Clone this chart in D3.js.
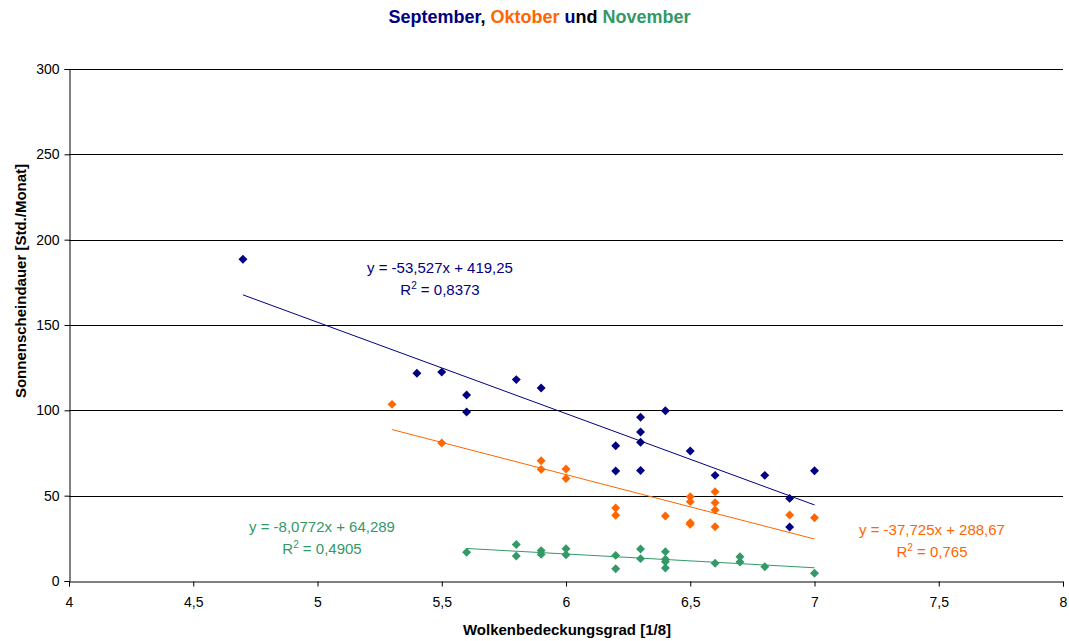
<!DOCTYPE html>
<html>
<head>
<meta charset="utf-8">
<script src="https://cdn.jsdelivr.net/npm/d3@7"></script>
<style>
  body { margin: 0; background: #fff; }
  svg { display: block; font-family: "Liberation Sans", Arial, sans-serif; }
</style>
</head>
<body>
<script>
// September
var sepX = [4.7, 5.4, 5.5, 5.6, 5.6, 5.8, 5.9, 6.2, 6.2, 6.3, 6.3, 6.3, 6.3, 6.4, 6.5, 6.6, 6.8, 6.9, 6.9, 7.0];
var sepY = [188.5, 121.7, 122.4, 109, 99, 118, 113.1, 79.3, 64.5, 95.9, 87.3, 81.3, 64.8, 99.8, 76.2, 61.9, 61.9, 48.4, 31.6, 64.6];
// Oktober
var oktX = [5.3, 5.5, 5.9, 5.9, 6.0, 6.0, 6.2, 6.2, 6.4, 6.5, 6.5, 6.5, 6.5, 6.6, 6.6, 6.6, 6.6, 6.9, 7.0];
var oktY = [103.5, 80.9, 70.5, 65.4, 65.6, 60, 42.8, 38.5, 38.1, 49.4, 46.5, 34.2, 33.2, 52.3, 45.9, 41.6, 31.8, 38.7, 37.1];
// November
var novX = [5.6, 5.8, 5.8, 5.9, 5.9, 6.0, 6.0, 6.2, 6.2, 6.3, 6.3, 6.4, 6.4, 6.4, 6.4, 6.6, 6.7, 6.7, 6.8, 7.0];
var novY = [16.8, 21.4, 14.7, 17.8, 15.6, 18.9, 15.4, 15.0, 7.2, 18.7, 13.1, 17.2, 12.7, 11.3, 7.6, 10.4, 14.2, 11.1, 8.4, 4.5];

var seriesNames = ['September', 'Oktober', 'November'];
var seriesColors = ['#000080', '#FF6600', '#339966'];
var slopes = [-53.527, -37.725, -8.0772];
var intercepts = [419.25, 288.67, 64.289];
var eqLabels = ['y = -53,527x + 419,25', 'y = -37,725x + 288,67', 'y = -8,0772x + 64,289'];
var r2Labels = ['0,8373', '0,765', '0,4905'];
var labelPos = [[440, 268], [932, 530], [322, 527]];

var xTicks = [4, 4.5, 5, 5.5, 6, 6.5, 7, 7.5, 8];
var yTicks = [0, 50, 100, 150, 200, 250, 300];

var W = 1069, H = 641;
var margin = {top: 69, right: 6, bottom: 60, left: 69};

var svg = d3.select('body').append('svg')
  .attr('width', W)
  .attr('height', H);

var x = d3.scaleLinear().domain([4, 8]).range([margin.left, W - margin.right]);
var y = d3.scaleLinear().domain([0, 300]).range([H - margin.bottom, margin.top]);

var fmt = function(d) { return String(d).replace('.', ','); };

// gridlines
svg.append('g').selectAll('line')
  .data(yTicks.filter(function(d) { return d > 0; }))
  .enter().append('line')
  .attr('x1', x(4)).attr('x2', x(8))
  .attr('y1', function(d) { return Math.round(y(d)) + 0.5; })
  .attr('y2', function(d) { return Math.round(y(d)) + 0.5; })
  .attr('stroke', '#000')
  .attr('stroke-width', 1);

// axes
var xAxis = svg.append('g')
  .attr('transform', 'translate(0,' + (Math.round(y(0)) + 0.5) + ')')
  .call(d3.axisBottom(x).tickValues(xTicks).tickFormat(fmt).tickSize(5).tickPadding(11));
var yAxis = svg.append('g')
  .attr('transform', 'translate(' + (Math.round(x(4)) + 0.5) + ',0)')
  .call(d3.axisLeft(y).tickValues(yTicks).tickSize(5).tickPadding(5));

[xAxis, yAxis].forEach(function(a) {
  a.select('.domain').attr('stroke', '#000');
  a.selectAll('.tick line').attr('stroke', '#000');
  a.selectAll('.tick text')
    .attr('font-family', '"Liberation Sans", Arial, sans-serif')
    .attr('font-size', 14)
    .attr('fill', '#000');
});

// trend lines and points
var allX = [sepX, oktX, novX];
var allY = [sepY, oktY, novY];
var diamond = d3.symbol().type(d3.symbolSquare).size(40);

allX.forEach(function(xs, i) {
  var x0 = d3.min(xs), x1 = d3.max(xs);
  svg.append('line')
    .attr('x1', x(x0)).attr('y1', y(slopes[i] * x0 + intercepts[i]))
    .attr('x2', x(x1)).attr('y2', y(slopes[i] * x1 + intercepts[i]))
    .attr('stroke', seriesColors[i])
    .attr('stroke-width', 1);
});

allX.forEach(function(xs, i) {
  var pts = xs.map(function(v, j) { return {x: v, y: allY[i][j]}; });
  svg.append('g').selectAll('path')
    .data(pts)
    .enter().append('path')
    .attr('d', diamond)
    .attr('transform', function(d) { return 'translate(' + x(d.x) + ',' + y(d.y) + ') rotate(45)'; })
    .attr('fill', seriesColors[i]);
});

// equation labels
labelPos.forEach(function(p, i) {
  var g = svg.append('g').attr('fill', seriesColors[i]).attr('font-size', 15).attr('text-anchor', 'middle');
  g.append('text').attr('x', p[0]).attr('y', p[1] + 5).text(eqLabels[i]);
  var t = g.append('text').attr('x', p[0]).attr('y', p[1] + 27);
  t.append('tspan').text('R');
  t.append('tspan').attr('font-size', 10).attr('dy', -6).text('2');
  t.append('tspan').attr('dy', 6).text(' = ' + r2Labels[i]);
});

// title
var title = svg.append('text')
  .attr('x', W / 2 + 5).attr('y', 23)
  .attr('text-anchor', 'middle')
  .attr('font-size', 18)
  .attr('font-weight', 'bold');
title.append('tspan').attr('fill', seriesColors[0]).text(seriesNames[0]);
title.append('tspan').attr('fill', '#000').text(', ');
title.append('tspan').attr('fill', seriesColors[1]).text(seriesNames[1]);
title.append('tspan').attr('fill', seriesColors[0]).text(' u');
title.append('tspan').attr('fill', '#000').text('nd ');
title.append('tspan').attr('fill', seriesColors[2]).text(seriesNames[2]);

// axis titles
svg.append('text')
  .attr('x', 567).attr('y', 635)
  .attr('text-anchor', 'middle')
  .attr('font-size', 15)
  .attr('font-weight', 'bold')
  .text('Wolkenbedeckungsgrad [1/8]');

svg.append('text')
  .attr('transform', 'translate(26,281) rotate(-90)')
  .attr('text-anchor', 'middle')
  .attr('font-size', 15)
  .attr('font-weight', 'bold')
  .text('Sonnenscheindauer [Std./Monat]');
</script>
</body>
</html>
